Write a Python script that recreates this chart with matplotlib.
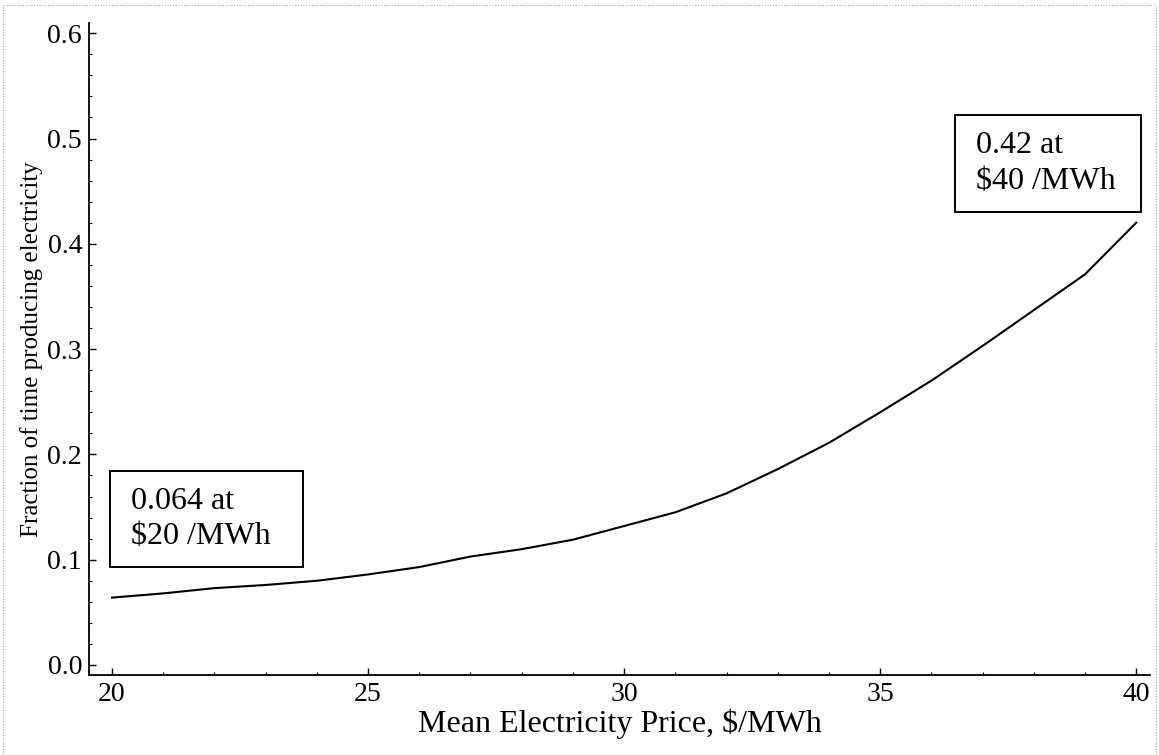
import matplotlib
matplotlib.use("Agg")
import matplotlib.pyplot as plt
from matplotlib.lines import Line2D
from matplotlib.patches import Rectangle
from matplotlib.ticker import MultipleLocator, FormatStrFormatter

# Mean electricity price ($/MWh) and fraction of time the plant produces electricity
price = [20, 21, 22, 23, 24, 25, 26, 27, 28, 29, 30,
         31, 32, 33, 34, 35, 36, 37, 38, 39, 40]
fraction = [0.064, 0.068, 0.073, 0.076, 0.080, 0.086, 0.093, 0.103, 0.110, 0.119, 0.132,
            0.145, 0.163, 0.186, 0.211, 0.240, 0.270, 0.303, 0.337, 0.371, 0.420]

x_label = "Mean Electricity Price, $/MWh"
y_label = "Fraction of time producing electricity"
low_note = "0.064 at\n$20 /MWh"
high_note = "0.42 at\n$40 /MWh"

plt.rcParams["font.family"] = ["Liberation Serif", "DejaVu Serif"]

W, H = 1159, 755
fig = plt.figure(figsize=(W / 100, H / 100), dpi=100)
fig.patch.set_facecolor("white")

ax_left, ax_right, ax_top, ax_bottom = 89, 1150, 23, 675
ax = fig.add_axes([ax_left / W, (H - ax_bottom) / H,
                   (ax_right - ax_left) / W, (ax_bottom - ax_top) / H])
ax.plot(price, fraction, color="black", lw=1.5)

ax.set_xlim(19.55, 40.27)
ax.set_ylim(-0.0095, 0.6097)

ax.xaxis.set_major_locator(MultipleLocator(5))
ax.xaxis.set_minor_locator(MultipleLocator(1))
ax.yaxis.set_major_locator(MultipleLocator(0.1))
ax.yaxis.set_minor_locator(MultipleLocator(0.02))
ax.yaxis.set_major_formatter(FormatStrFormatter("%.1f"))

for s in ("top", "right"):
    ax.spines[s].set_visible(False)
for s in ("left", "bottom"):
    ax.spines[s].set_linewidth(1.3)

ax.tick_params(which="major", direction="in", length=5, width=1.0, labelsize=20)
ax.tick_params(which="minor", direction="in", length=2.5, width=0.8)
ax.tick_params(axis="x", which="major", pad=5)
ax.tick_params(axis="y", which="major", pad=5)

ax.set_xlabel(x_label, fontsize=23, va="center")
ax.xaxis.set_label_coords((620 - ax_left) / (ax_right - ax_left),
                          -(724 - ax_bottom) / (ax_bottom - ax_top))
ax.set_ylabel(y_label, fontsize=18, va="center")
ax.yaxis.set_label_coords(-(ax_left - 32) / (ax_right - ax_left), 0.5)


def note_box(x0, y0, x1, y1, tx, text):
    # box and text in pixel positions of the figure (origin top-left)
    fig.patches.append(Rectangle((x0 / W, 1 - y1 / H), (x1 - x0) / W, (y1 - y0) / H,
                                 transform=fig.transFigure, facecolor="white",
                                 edgecolor="black", lw=1.4, zorder=5))
    fig.text(tx / W, 1 - (y0 + y1) / 2 / H, text, fontsize=23, ha="left", va="center",
             linespacing=1.28, zorder=6)


note_box(110, 471, 303, 567, 131, low_note)
note_box(955, 115, 1141, 212, 976, high_note)

# light dotted frame around the figure
frame = dict(color="#aaaaaa", lw=0.8, ls=(0, (1, 1.5)), transform=fig.transFigure)
fig.lines.append(Line2D([3 / W, 3 / W], [0, 1 - 5 / H], **frame))
fig.lines.append(Line2D([3 / W, 1156 / W], [1 - 5 / H, 1 - 5 / H], **frame))
fig.lines.append(Line2D([1156 / W, 1156 / W], [0, 1 - 5 / H], **frame))

fig.savefig("out.png", dpi=100)
